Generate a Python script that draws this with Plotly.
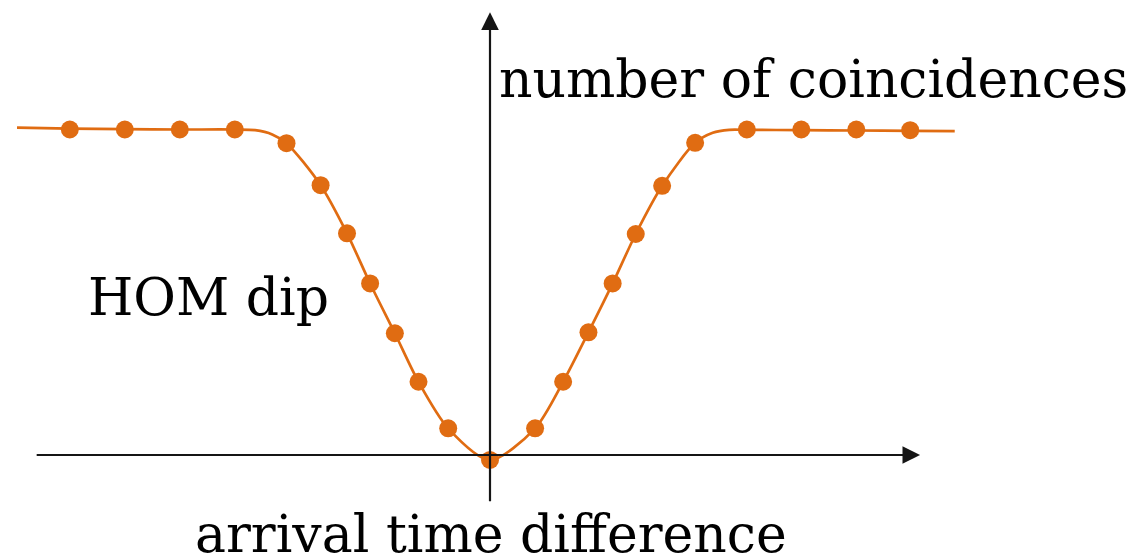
import plotly.graph_objects as go

# measured samples (arrival time difference in arbitrary units, normalized coincidences)
dot_x = [-7.64, -6.64, -5.64, -4.64, -3.70, -3.08, -2.60, -2.18, -1.73, -1.30, -0.76, 0.0,
         0.82, 1.33, 1.79, 2.23, 2.65, 3.13, 3.73, 4.67, 5.66, 6.66, 7.64]
dot_y = [1.0, 1.0, 1.0, 1.0, 0.958, 0.829, 0.681, 0.527, 0.374, 0.225, 0.082, -0.015,
         0.082, 0.225, 0.377, 0.527, 0.679, 0.827, 0.959, 1.0, 1.0, 1.0, 0.998]

# smooth guide curve through the samples
curve_x = [-8.60, -7.64, -6.64, -5.64, -4.64, -4.27, -3.96, -3.70, -3.08, -2.60, -2.18, -1.73,
           -1.30, -0.76, 0.0, 0.82, 1.33, 1.79, 2.23, 2.65, 3.13, 3.73, 4.05, 4.35,
           4.67, 5.66, 6.66, 7.64, 8.45]
curve_y = [1.006, 1.003, 1.001, 1.0, 1.0, 0.998, 0.985, 0.958, 0.829, 0.681, 0.527, 0.374,
           0.225, 0.082, -0.015, 0.082, 0.225, 0.377, 0.527, 0.679, 0.827, 0.959, 0.99, 0.999,
           0.999, 0.998, 0.997, 0.996, 0.995]

x_label = "arrival time difference"
y_label = "number of coincidences"
dip_label = "HOM dip"

ORANGE = "#E06C12"
FONT = "DejaVu Serif"
FS = 52

fig = go.Figure()
fig.add_trace(go.Scatter(x=curve_x, y=curve_y, mode="lines",
                         line=dict(color=ORANGE, width=2.7, shape="spline", smoothing=0.8),
                         hoverinfo="skip", showlegend=False))
fig.add_trace(go.Scatter(x=dot_x, y=dot_y, mode="markers",
                         marker=dict(color=ORANGE, size=18, line=dict(width=0)),
                         showlegend=False))

# axes as arrows
fig.add_annotation(x=7.82, y=0, ax=-8.27, ay=0, xref="x", yref="y", axref="x", ayref="y",
                   showarrow=True, arrowhead=2, arrowsize=1.6, arrowwidth=2.2,
                   arrowcolor="#151515", text="")
fig.add_annotation(x=0, y=1.36, ax=0, ay=-0.147, xref="x", yref="y", axref="x", ayref="y",
                   showarrow=True, arrowhead=2, arrowsize=1.6, arrowwidth=2.2,
                   arrowcolor="#151515", text="")

fig.add_annotation(x=0.127, y=1.155, xref="x", yref="y", text=y_label, showarrow=False,
                   xanchor="left", yanchor="middle", font=dict(family=FONT, size=FS, color="black"))
fig.add_annotation(x=-7.345, y=0.4845, xref="x", yref="y", text=dip_label, showarrow=False,
                   xanchor="left", yanchor="middle", font=dict(family=FONT, size=FS, color="black"))
fig.add_annotation(x=-5.4, y=-0.2436, xref="x", yref="y", text=x_label, showarrow=False,
                   xanchor="left", yanchor="middle", font=dict(family=FONT, size=FS, color="black"))

fig.update_layout(
    width=1129, height=552,
    margin=dict(l=0, r=0, t=0, b=0),
    paper_bgcolor="white", plot_bgcolor="white",
    xaxis=dict(range=[-8.764, 11.764], visible=False, fixedrange=True),
    yaxis=dict(range=[-0.3226, 1.3733], visible=False, fixedrange=True),
)

fig.write_html("out.html")
